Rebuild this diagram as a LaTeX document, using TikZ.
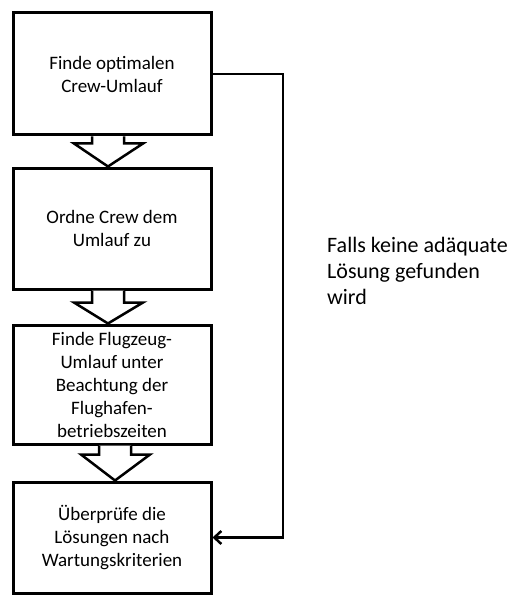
\documentclass[tikz,border=0pt]{standalone}
\usepackage{fontspec}
\setmainfont{Carlito}
\usetikzlibrary{calc,arrows.meta}

% hollow block arrow between two stacked boxes
% #1 upper box, #2 lower box, #3 x offset of the arrow axis, #4 depth of the head base below #1
\newcommand{\hollowarrow}[4]{%
  \draw[blockarrow]
    ($(#1.south)+({#3-16},0)$) -- ($(#1.south)+({#3-16},#4)$)
    -- ($(#1.south)+({#3-34},#4)$) -- ($(#2.north)+({#3},0)$)
    -- ($(#1.south)+({#3+35},#4)$) -- ($(#1.south)+({#3+16},#4)$)
    -- ($(#1.south)+({#3+16},0)$);}

\begin{document}
\begin{tikzpicture}[x=1pt,y=-1pt,
  stepbox/.style={draw=black,line width=3pt,minimum width=198pt,inner sep=2pt,
    align=center,font=\fontsize{19}{23}\selectfont},
  blockarrow/.style={draw=black,line width=2.5pt,fill=white,line join=miter},
  conn/.style={draw=black,line width=2.5pt,-{Straight Barb[length=7pt,width=13pt,line width=2.5pt]}},
  note/.style={align=left,inner sep=0pt,font=\fontsize{22}{26}\selectfont}]
  \useasboundingbox (0,0) rectangle (512,596);

  \node[stepbox,minimum height=122pt] (b1) at (112,74)
    {Finde optimalen\\Crew-Umlauf};
  \node[stepbox,minimum height=121pt] (b2) at (112,228.5)
    {Ordne Crew dem\\Umlauf zu};
  \node[stepbox,minimum height=119pt] (b3) at (112,384.5)
    {Finde Flugzeug-\\Umlauf unter\\Beachtung der\\Flughafen-\\betriebszeiten};
  \node[stepbox,minimum height=111pt] (b4) at (112,537.5)
    {\"Uberpr\"ufe die\\L\"osungen nach\\Wartungskriterien};

  \hollowarrow{b1}{b2}{-4}{7}
  \hollowarrow{b2}{b3}{-4}{12}
  \hollowarrow{b3}{b4}{3}{9}

  % feedback loop back to the check step
  \coordinate (rx) at (283,0);
  \draw[conn] (b1.east) -| (rx |- b4.east) -- (b4.east);

  \node[note,anchor=west] (fb) at (327,271)
    {Falls keine ad\"aquate\\L\"osung gefunden\\wird};
\end{tikzpicture}
\end{document}
